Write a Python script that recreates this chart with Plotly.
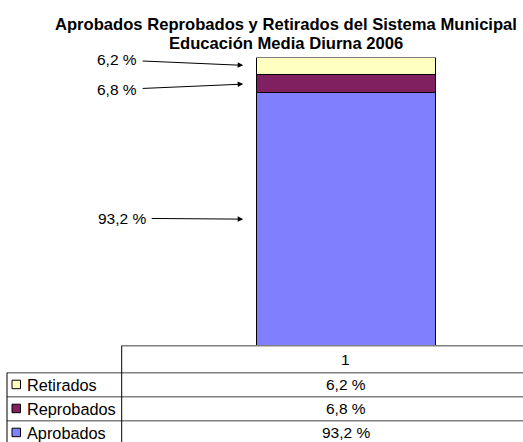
import plotly.graph_objects as go

# ---------------- data ----------------
categories = ["1"]
series_names = ["Aprobados", "Reprobados", "Retirados"]  # bottom -> top of the stack
aprobados = [93.2]
reprobados = [6.8]
retirados = [6.2]
table_rows = ["Retirados", "Reprobados", "Aprobados"]  # top -> bottom in the table

title_lines = ["Aprobados Reprobados y Retirados del Sistema Municipal",
               "Educación Media Diurna 2006"]

# ---------------- style ----------------
W, H = 523, 442
FONT = "Liberation Sans, Arial, sans-serif"
colors = {"Aprobados": "#8080FF", "Reprobados": "#802060", "Retirados": "#FFFFC0"}
values = {"Aprobados": aprobados, "Reprobados": reprobados, "Retirados": retirados}
# text offsets (pixels) of the callout labels relative to the arrow head
label_offsets = {"Retirados": (-139, -6), "Reprobados": (-139, 6), "Aprobados": (-134, -1)}

def px(x):
    return x / W

def py(y):
    return 1 - y / H

def fmt(v):
    return f"{v:.1f}".replace(".", ",") + " %"

BAR_W = 0.4
x_pos = list(range(1, len(categories) + 1))

fig = go.Figure()
for name in series_names:
    fig.add_trace(go.Bar(
        x=x_pos, y=values[name], name=name, width=BAR_W,
        marker=dict(color=colors[name], line=dict(color="#000000", width=1)),
        showlegend=False,
    ))

annotations = []
shapes = []

# title
for i, line in enumerate(title_lines):
    annotations.append(dict(
        text="<b>" + line + "</b>",
        x=px(285.5), y=py(24.5 + 19 * i), xref="paper", yref="paper",
        xanchor="center", yanchor="middle", showarrow=False,
        font=dict(family=FONT, size=16.6, color="#000000"),
    ))

# callouts with arrows
cum = 0.0
for name in series_names:
    v = values[name][0]
    mid = cum + v / 2
    cum += v
    ax, ay = label_offsets[name]
    annotations.append(dict(
        text=fmt(v), x=x_pos[0] - BAR_W / 2, y=mid, xref="x", yref="y",
        ax=ax, ay=ay, showarrow=True, arrowhead=2, arrowsize=1.1,
        arrowwidth=1, arrowcolor="#000000", standoff=13, startstandoff=4,
        font=dict(family=FONT, size=15.5, color="#000000"),
    ))

# data table
TOP, HDR, ROW = 345.7, 372.7, 24.0
COL_X, LEFT_X = 121.7, 7.0
GRAY = "#808080"
shapes.append(dict(type="line", xref="paper", yref="paper",
                   x0=px(COL_X), x1=1, y0=py(TOP), y1=py(TOP),
                   line=dict(color=GRAY, width=1.5)))
for i in range(len(table_rows) + 1):
    yy = HDR + i * ROW
    shapes.append(dict(type="line", xref="paper", yref="paper",
                       x0=px(LEFT_X), x1=1, y0=py(yy), y1=py(yy),
                       line=dict(color=GRAY, width=1.5)))
shapes.append(dict(type="line", xref="paper", yref="paper",
                   x0=px(COL_X), x1=px(COL_X), y0=py(TOP), y1=0,
                   line=dict(color="#000000", width=1)))
shapes.append(dict(type="line", xref="paper", yref="paper",
                   x0=px(LEFT_X), x1=px(LEFT_X), y0=py(HDR), y1=0,
                   line=dict(color="#000000", width=1)))

for xi, cat in zip(x_pos, categories):
    annotations.append(dict(
        text=cat, x=xi, y=py((TOP + HDR) / 2), xref="x", yref="paper",
        xanchor="center", yanchor="middle", showarrow=False,
        font=dict(family=FONT, size=15.5, color="#000000"),
    ))

for r, name in enumerate(table_rows):
    yc = HDR + r * ROW + ROW / 2
    shapes.append(dict(type="rect", xref="paper", yref="paper",
                       x0=px(12), x1=px(20.5), y0=py(yc - 4.5), y1=py(yc + 4),
                       fillcolor=colors[name], line=dict(color="#000000", width=1)))
    annotations.append(dict(
        text=name, x=px(24.5), y=py(yc), xref="paper", yref="paper",
        xanchor="left", yanchor="middle", showarrow=False,
        font=dict(family=FONT, size=16.3, color="#000000"),
    ))
    for xi in x_pos:
        annotations.append(dict(
            text=fmt(values[name][xi - 1]), x=xi, y=py(yc), xref="x", yref="paper",
            xanchor="center", yanchor="middle", showarrow=False,
            font=dict(family=FONT, size=15.5, color="#000000"),
        ))

total = aprobados[0] + reprobados[0] + retirados[0]
PX_PER_UNIT = 448.3
x_left = 0.5 - COL_X / PX_PER_UNIT
x_right = x_left + W / PX_PER_UNIT

fig.update_layout(
    width=W, height=H,
    margin=dict(l=0, r=0, t=0, b=0),
    paper_bgcolor="#FFFFFF", plot_bgcolor="#FFFFFF",
    barmode="stack", bargap=0,
    xaxis=dict(domain=[0, 1], range=[x_left, x_right], showticklabels=False,
               showgrid=False, zeroline=False, showline=False, fixedrange=True),
    yaxis=dict(domain=[py(TOP), py(57.5)], range=[0, total], showticklabels=False,
               showgrid=False, zeroline=False, showline=False, fixedrange=True),
    annotations=annotations, shapes=shapes,
    showlegend=False,
)

fig.write_html(
    "out.html",
    config={"displayModeBar": False, "staticPlot": True},
    post_script="document.body.style.margin='0';document.body.style.overflow='hidden';",
)
